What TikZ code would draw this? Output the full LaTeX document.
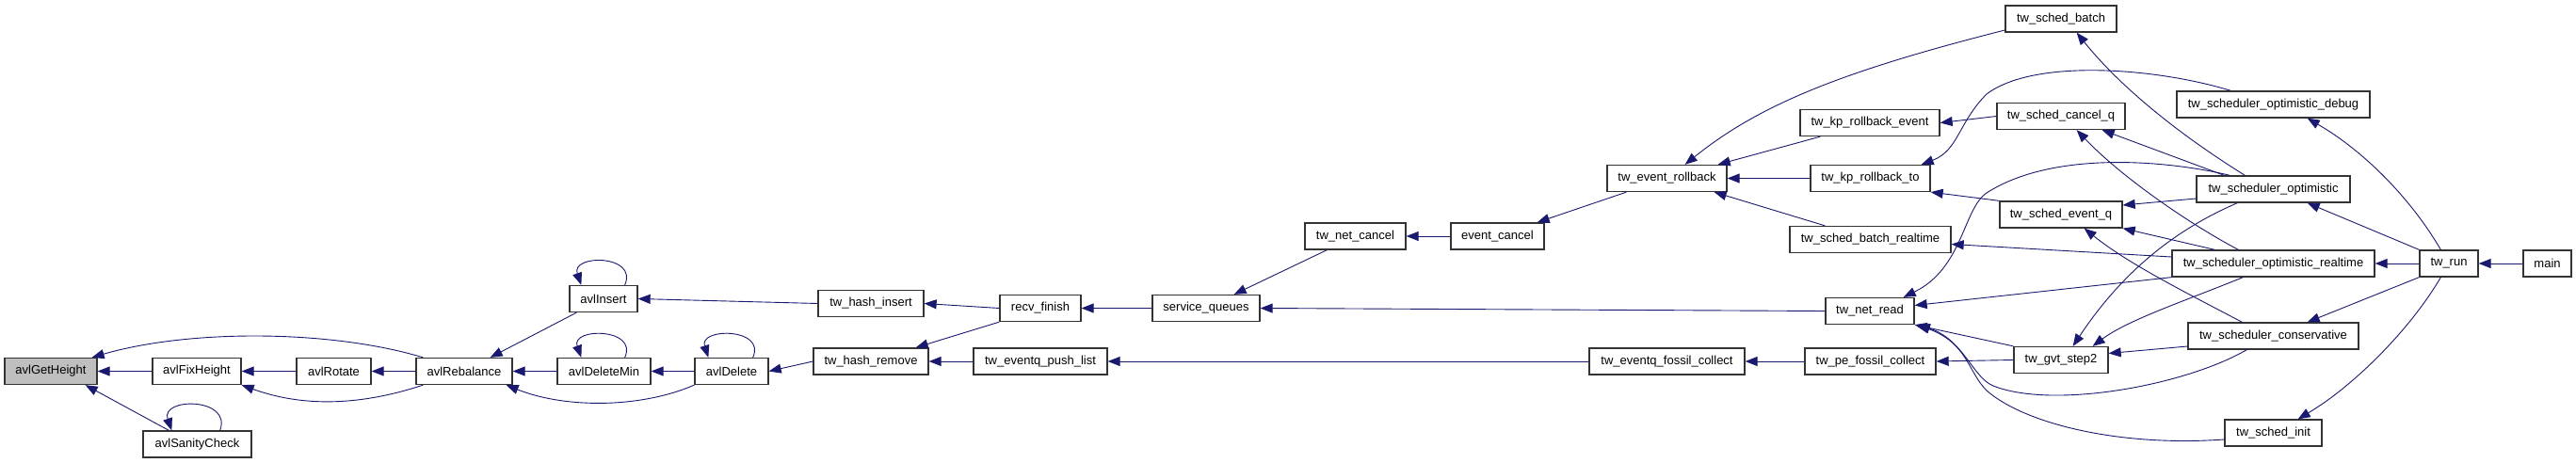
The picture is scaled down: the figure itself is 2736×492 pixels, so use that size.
\documentclass[tikz,border=0pt]{standalone}
\usepackage{fontspec}
\setmainfont{Liberation Sans}
\usetikzlibrary{arrows.meta}
\definecolor{edgecol}{HTML}{191970}
\begin{document}
\begin{tikzpicture}[x=1pt,y=-1pt,
  box/.style={draw=black!80,fill=white,line width=1.3pt,inner sep=0pt,minimum height=28pt,
    font=\fontsize{13}{15}\selectfont},
  edge/.style={draw=edgecol,line width=0.9pt,-{Triangle[length=13pt,width=10pt]}}]
\fill[white] (0,0) rectangle (2736,492);
\useasboundingbox (0,0) rectangle (2736,492);
% nodes
\node[box,fill=black!25,minimum width=98pt] (gh) at (54,394.5) {avlGetHeight};
\node[box,minimum width=94pt] (fix) at (209,394.5) {avlFixHeight};
\node[box,minimum width=79pt] (rot) at (354.5,394.5) {avlRotate};
\node[box,minimum width=102pt] (reb) at (493,394.5) {avlRebalance};
\node[box,minimum width=115pt] (san) at (209.5,472) {avlSanityCheck};
\node[box,minimum width=72pt] (ins) at (641,317.5) {avlInsert};
\node[box,minimum width=99pt] (dm) at (641.5,394.5) {avlDeleteMin};
\node[box,minimum width=78pt] (del) at (777,394.5) {avlDelete};
\node[box,minimum width=112pt] (hi) at (925,322.5) {tw\_hash\_insert};
\node[box,minimum width=122pt] (hr) at (925,384) {tw\_hash\_remove};
\node[box,minimum width=86pt] (rf) at (1105,327.5) {recv\_finish};
\node[box,minimum width=142pt] (pl) at (1105,384) {tw\_eventq\_push\_list};
\node[box,minimum width=114pt] (sq) at (1281,327.5) {service\_queues};
\node[box,minimum width=107pt] (nc) at (1439.5,251) {tw\_net\_cancel};
\node[box,minimum width=99pt] (ec) at (1590.5,251) {event\_cancel};
\node[box,minimum width=127pt] (er) at (1770.5,189.5) {tw\_event\_rollback};
\node[box,minimum width=165pt] (fc) at (1770.5,384) {tw\_eventq\_fossil\_collect};
\node[box,minimum width=118pt] (sb) at (2189,20) {tw\_sched\_batch};
\node[box,minimum width=148pt] (kre) at (1986,130.5) {tw\_kp\_rollback\_event};
\node[box,minimum width=127pt] (krt) at (1986.5,189.5) {tw\_kp\_rollback\_to};
\node[box,minimum width=171pt] (sbr) at (1986.5,254.5) {tw\_sched\_batch\_realtime};
\node[box,minimum width=94pt] (nr) at (1986,330.5) {tw\_net\_read};
\node[box,minimum width=139pt] (pfc) at (1986.5,384) {tw\_pe\_fossil\_collect};
\node[box,minimum width=136pt] (scq) at (2189,123.5) {tw\_sched\_cancel\_q};
\node[box,minimum width=130pt] (sev) at (2189,228) {tw\_sched\_event\_q};
\node[box,minimum width=100pt] (gs) at (2189,382.5) {tw\_gvt\_step2};
\node[box,minimum width=205pt] (dbg) at (2414.5,111) {tw\_scheduler\_optimistic\_debug};
\node[box,minimum width=163pt] (opt) at (2414.5,201) {tw\_scheduler\_optimistic};
\node[box,minimum width=215pt] (rt) at (2414.5,280) {tw\_scheduler\_optimistic\_realtime};
\node[box,minimum width=181pt] (cons) at (2414.5,357) {tw\_scheduler\_conservative};
\node[box,minimum width=103pt] (si) at (2414.5,460) {tw\_sched\_init};
\node[box,minimum width=62pt] (run) at (2601,280) {tw\_run};
\node[box,minimum width=51pt] (main) at (2705.5,280) {main};
% edges
\draw[edge] (fix.west) -- (gh.east);
\draw[edge] ([xshift=28pt]san.north west) -- ([xshift=-13pt]gh.south east);
\draw[edge] ([xshift=-34pt]san.north east) .. controls (247,422) and (170,422) .. ([xshift=31pt]san.north west);
\draw[edge] ([xshift=8pt]reb.north west) .. controls (350,350) and (200,350) .. ([xshift=-6pt]gh.north east);
\draw[edge] (rot.west) -- (fix.east);
\draw[edge] ([xshift=8pt]reb.south west) .. controls (380,432) and (320,432) .. (fix.south east);
\draw[edge] (reb.west) -- (rot.east);
\draw[edge] ([xshift=8pt]ins.south west) -- ([xshift=-24pt]reb.north east);
\draw[edge] ([xshift=-14pt]ins.north east) .. controls (678,270) and (606,270) .. ([xshift=13pt]ins.north west);
\draw[edge] (dm.west) -- (reb.east);
\draw[edge] ([xshift=-28pt]dm.north east) .. controls (678,348) and (606,348) .. ([xshift=26pt]dm.north west);
\draw[edge] (del.west) -- (dm.east);
\draw[edge] (del.south west) .. controls (680,434) and (600,434) .. ([xshift=-7pt]reb.south east);
\draw[edge] ([xshift=-17pt]del.north east) .. controls (814,348) and (742,348) .. ([xshift=15pt]del.north west);
\draw[edge] (hi.west) -- (ins.east);
\draw[edge] (hr.west) -- (del.east);
\draw[edge] (rf.west) -- (hi.east);
\draw[edge] (rf.south west) -- ([xshift=-14pt]hr.north east);
\draw[edge] (pl.west) -- (hr.east);
\draw[edge] (sq.west) -- (rf.east);
\draw[edge] ([xshift=24pt]nc.south west) -- ([xshift=-28pt]sq.north east);
\draw[edge] (nr.west) -- (sq.east);
\draw[edge] (ec.west) -- (nc.east);
\draw[edge] ([xshift=21pt]er.south west) -- ([xshift=-8pt]ec.north east);
\draw[edge] (fc.west) -- (pl.east);
\draw[edge] (pfc.west) -- (fc.east);
\draw[edge] ([yshift=-12pt]sb.west) .. controls (1960,75) and (1870,110) .. ([xshift=-45pt]er.north east);
\draw[edge] ([xshift=22pt]kre.south west) -- ([xshift=-10pt]er.north east);
\draw[edge] (krt.west) -- (er.east);
\draw[edge] ([xshift=38pt]sbr.north west) -- ([xshift=-14pt]er.south east);
\draw[edge] (scq.west) -- (kre.east);
\draw[edge] ([xshift=58pt]dbg.north west) .. controls (2290,72) and (2160,62) .. (2110,100) .. controls (2080,130) and (2080,160) .. ([xshift=-10pt]krt.north east);
\draw[edge] (sev.north west) -- (krt.south east);
\draw[edge] ([xshift=52pt]opt.north west) .. controls (2310,140) and (2250,90) .. ([xshift=-43pt]sb.south east);
\draw[edge] ([xshift=30pt]opt.north west) -- ([xshift=-25pt]scq.south east);
\draw[edge] ([xshift=71pt]rt.north west) .. controls (2320,235) and (2250,185) .. ([xshift=-52pt]scq.south east);
\draw[edge] ([xshift=36pt]opt.north west) .. controls (2300,170) and (2180,160) .. (2110,205) .. controls (2085,222) and (2085,285) .. ([xshift=-12pt]nr.north east);
\draw[edge] ([yshift=-10pt]opt.west) -- ([yshift=10pt]sev.east);
\draw[edge] ([xshift=44pt]opt.south west) .. controls (2320,240) and (2260,280) .. ([xshift=-38pt]gs.north east);
\draw[edge] ([xshift=76pt]rt.south west) .. controls (2320,320) and (2260,340) .. ([xshift=-17pt]gs.north east);
\draw[edge] ([xshift=46pt]rt.north west) -- (sev.south east);
\draw[edge] ([xshift=58pt]cons.north west) .. controls (2320,310) and (2260,280) .. ([xshift=-41pt]sev.south east);
\draw[edge] ([yshift=7pt]rt.west) -- ([yshift=-5pt]sbr.east);
\draw[edge] (rt.south west) -- ([yshift=6pt]nr.east);
\draw[edge] (gs.north west) -- (nr.south east);
\draw[edge] (gs.west) -- (pfc.east);
\draw[edge] ([yshift=-11pt]cons.west) -- ([yshift=7pt]gs.east);
\draw[edge] ([xshift=63pt]cons.south west) .. controls (2320,410) and (2180,435) .. (2117,410) .. controls (2095,401) and (2085,360) .. ([xshift=3pt]nr.south east);
\draw[edge] ([yshift=-7pt]si.west) .. controls (2250,475) and (2150,450) .. (2110,415) .. controls (2090,395) and (2090,365) .. ([xshift=3pt]nr.south east);
\draw[edge] ([xshift=23pt]run.north west) .. controls (2560,210) and (2510,160) .. ([xshift=-67pt]dbg.south east);
\draw[edge] (run.north west) -- ([xshift=-46pt]opt.south east);
\draw[edge] (run.west) -- (rt.east);
\draw[edge] (run.south west) -- ([xshift=-55pt]cons.north east);
\draw[edge] ([xshift=23pt]run.south west) .. controls (2560,350) and (2500,410) .. ([xshift=-26pt]si.north east);
\draw[edge] (main.west) -- (run.east);
\end{tikzpicture}
\end{document}
